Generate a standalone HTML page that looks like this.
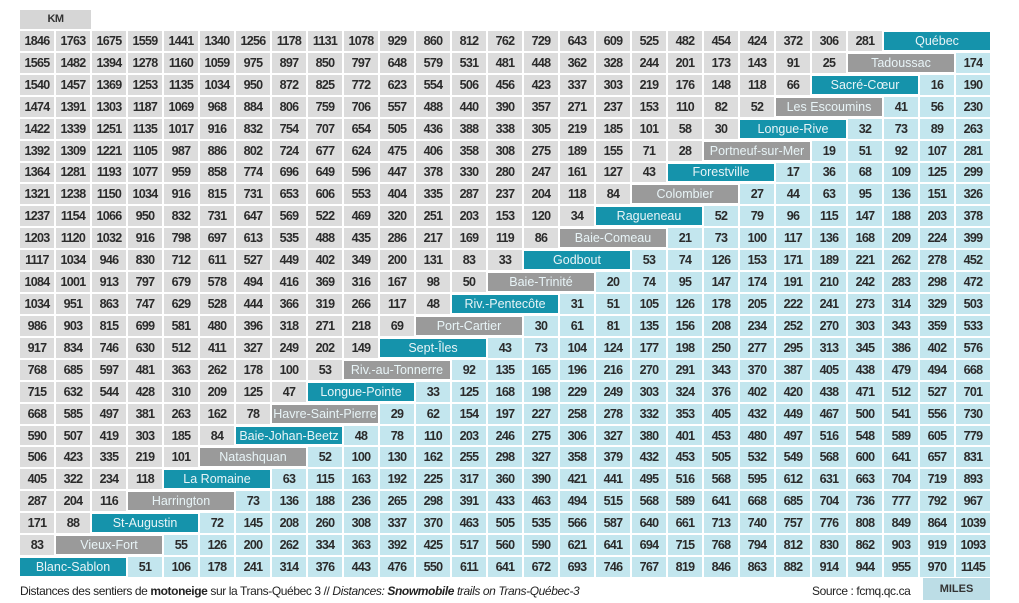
<!DOCTYPE html>
<html><head><meta charset="utf-8">
<style>
html,body{margin:0;padding:0;background:#fff;width:1019px;height:603px;overflow:hidden}
body{position:relative;font-family:"Liberation Sans",sans-serif}
#km{position:absolute;left:20px;top:10px;width:71px;height:19px;background:#d6d6d6;color:#333;font-weight:bold;font-size:11px;text-align:center;line-height:19px;letter-spacing:-0.5px}
#grid{position:absolute;left:20px;top:31px;width:970px;height:546px;display:grid;grid-template-columns:repeat(27,1fr);grid-template-rows:repeat(25,1fr);gap:2px}
#grid i{font-style:normal;display:flex;align-items:center;justify-content:center;font-size:12.5px;font-weight:bold;color:#2b2b2b;letter-spacing:-0.7px}
.g{background:#dcdcdc}.b{background:#c3e6ee}
#grid i.t,#grid i.d{grid-column:span 3;color:#e8f4f7;font-weight:normal;font-size:12.5px;letter-spacing:0;margin:1px 0}
.t{background:#1593ab}.d{background:#9a9a9a}
#foot{position:absolute;left:20px;top:584px;font-size:12px;color:#222;letter-spacing:-0.4px;font-weight:500}
#src{position:absolute;left:812px;top:584px;font-size:12px;color:#222;letter-spacing:-0.4px}
#mi{position:absolute;left:923px;top:578px;width:67px;height:22px;background:#bcdde6;color:#333;font-weight:bold;font-size:11px;text-align:center;line-height:22px}
</style></head><body>
<div id="km">KM</div>
<div id="grid">
<i class="g">1846</i><i class="g">1763</i><i class="g">1675</i><i class="g">1559</i><i class="g">1441</i><i class="g">1340</i><i class="g">1256</i><i class="g">1178</i><i class="g">1131</i><i class="g">1078</i><i class="g">929</i><i class="g">860</i><i class="g">812</i><i class="g">762</i><i class="g">729</i><i class="g">643</i><i class="g">609</i><i class="g">525</i><i class="g">482</i><i class="g">454</i><i class="g">424</i><i class="g">372</i><i class="g">306</i><i class="g">281</i><i class="t">Québec</i>
<i class="g">1565</i><i class="g">1482</i><i class="g">1394</i><i class="g">1278</i><i class="g">1160</i><i class="g">1059</i><i class="g">975</i><i class="g">897</i><i class="g">850</i><i class="g">797</i><i class="g">648</i><i class="g">579</i><i class="g">531</i><i class="g">481</i><i class="g">448</i><i class="g">362</i><i class="g">328</i><i class="g">244</i><i class="g">201</i><i class="g">173</i><i class="g">143</i><i class="g">91</i><i class="g">25</i><i class="d">Tadoussac</i><i class="b">174</i>
<i class="g">1540</i><i class="g">1457</i><i class="g">1369</i><i class="g">1253</i><i class="g">1135</i><i class="g">1034</i><i class="g">950</i><i class="g">872</i><i class="g">825</i><i class="g">772</i><i class="g">623</i><i class="g">554</i><i class="g">506</i><i class="g">456</i><i class="g">423</i><i class="g">337</i><i class="g">303</i><i class="g">219</i><i class="g">176</i><i class="g">148</i><i class="g">118</i><i class="g">66</i><i class="t">Sacré-Cœur</i><i class="b">16</i><i class="b">190</i>
<i class="g">1474</i><i class="g">1391</i><i class="g">1303</i><i class="g">1187</i><i class="g">1069</i><i class="g">968</i><i class="g">884</i><i class="g">806</i><i class="g">759</i><i class="g">706</i><i class="g">557</i><i class="g">488</i><i class="g">440</i><i class="g">390</i><i class="g">357</i><i class="g">271</i><i class="g">237</i><i class="g">153</i><i class="g">110</i><i class="g">82</i><i class="g">52</i><i class="d">Les Escoumins</i><i class="b">41</i><i class="b">56</i><i class="b">230</i>
<i class="g">1422</i><i class="g">1339</i><i class="g">1251</i><i class="g">1135</i><i class="g">1017</i><i class="g">916</i><i class="g">832</i><i class="g">754</i><i class="g">707</i><i class="g">654</i><i class="g">505</i><i class="g">436</i><i class="g">388</i><i class="g">338</i><i class="g">305</i><i class="g">219</i><i class="g">185</i><i class="g">101</i><i class="g">58</i><i class="g">30</i><i class="t">Longue-Rive</i><i class="b">32</i><i class="b">73</i><i class="b">89</i><i class="b">263</i>
<i class="g">1392</i><i class="g">1309</i><i class="g">1221</i><i class="g">1105</i><i class="g">987</i><i class="g">886</i><i class="g">802</i><i class="g">724</i><i class="g">677</i><i class="g">624</i><i class="g">475</i><i class="g">406</i><i class="g">358</i><i class="g">308</i><i class="g">275</i><i class="g">189</i><i class="g">155</i><i class="g">71</i><i class="g">28</i><i class="d">Portneuf-sur-Mer</i><i class="b">19</i><i class="b">51</i><i class="b">92</i><i class="b">107</i><i class="b">281</i>
<i class="g">1364</i><i class="g">1281</i><i class="g">1193</i><i class="g">1077</i><i class="g">959</i><i class="g">858</i><i class="g">774</i><i class="g">696</i><i class="g">649</i><i class="g">596</i><i class="g">447</i><i class="g">378</i><i class="g">330</i><i class="g">280</i><i class="g">247</i><i class="g">161</i><i class="g">127</i><i class="g">43</i><i class="t">Forestville</i><i class="b">17</i><i class="b">36</i><i class="b">68</i><i class="b">109</i><i class="b">125</i><i class="b">299</i>
<i class="g">1321</i><i class="g">1238</i><i class="g">1150</i><i class="g">1034</i><i class="g">916</i><i class="g">815</i><i class="g">731</i><i class="g">653</i><i class="g">606</i><i class="g">553</i><i class="g">404</i><i class="g">335</i><i class="g">287</i><i class="g">237</i><i class="g">204</i><i class="g">118</i><i class="g">84</i><i class="d">Colombier</i><i class="b">27</i><i class="b">44</i><i class="b">63</i><i class="b">95</i><i class="b">136</i><i class="b">151</i><i class="b">326</i>
<i class="g">1237</i><i class="g">1154</i><i class="g">1066</i><i class="g">950</i><i class="g">832</i><i class="g">731</i><i class="g">647</i><i class="g">569</i><i class="g">522</i><i class="g">469</i><i class="g">320</i><i class="g">251</i><i class="g">203</i><i class="g">153</i><i class="g">120</i><i class="g">34</i><i class="t">Ragueneau</i><i class="b">52</i><i class="b">79</i><i class="b">96</i><i class="b">115</i><i class="b">147</i><i class="b">188</i><i class="b">203</i><i class="b">378</i>
<i class="g">1203</i><i class="g">1120</i><i class="g">1032</i><i class="g">916</i><i class="g">798</i><i class="g">697</i><i class="g">613</i><i class="g">535</i><i class="g">488</i><i class="g">435</i><i class="g">286</i><i class="g">217</i><i class="g">169</i><i class="g">119</i><i class="g">86</i><i class="d">Baie-Comeau</i><i class="b">21</i><i class="b">73</i><i class="b">100</i><i class="b">117</i><i class="b">136</i><i class="b">168</i><i class="b">209</i><i class="b">224</i><i class="b">399</i>
<i class="g">1117</i><i class="g">1034</i><i class="g">946</i><i class="g">830</i><i class="g">712</i><i class="g">611</i><i class="g">527</i><i class="g">449</i><i class="g">402</i><i class="g">349</i><i class="g">200</i><i class="g">131</i><i class="g">83</i><i class="g">33</i><i class="t">Godbout</i><i class="b">53</i><i class="b">74</i><i class="b">126</i><i class="b">153</i><i class="b">171</i><i class="b">189</i><i class="b">221</i><i class="b">262</i><i class="b">278</i><i class="b">452</i>
<i class="g">1084</i><i class="g">1001</i><i class="g">913</i><i class="g">797</i><i class="g">679</i><i class="g">578</i><i class="g">494</i><i class="g">416</i><i class="g">369</i><i class="g">316</i><i class="g">167</i><i class="g">98</i><i class="g">50</i><i class="d">Baie-Trinité</i><i class="b">20</i><i class="b">74</i><i class="b">95</i><i class="b">147</i><i class="b">174</i><i class="b">191</i><i class="b">210</i><i class="b">242</i><i class="b">283</i><i class="b">298</i><i class="b">472</i>
<i class="g">1034</i><i class="g">951</i><i class="g">863</i><i class="g">747</i><i class="g">629</i><i class="g">528</i><i class="g">444</i><i class="g">366</i><i class="g">319</i><i class="g">266</i><i class="g">117</i><i class="g">48</i><i class="t">Riv.-Pentecôte</i><i class="b">31</i><i class="b">51</i><i class="b">105</i><i class="b">126</i><i class="b">178</i><i class="b">205</i><i class="b">222</i><i class="b">241</i><i class="b">273</i><i class="b">314</i><i class="b">329</i><i class="b">503</i>
<i class="g">986</i><i class="g">903</i><i class="g">815</i><i class="g">699</i><i class="g">581</i><i class="g">480</i><i class="g">396</i><i class="g">318</i><i class="g">271</i><i class="g">218</i><i class="g">69</i><i class="d">Port-Cartier</i><i class="b">30</i><i class="b">61</i><i class="b">81</i><i class="b">135</i><i class="b">156</i><i class="b">208</i><i class="b">234</i><i class="b">252</i><i class="b">270</i><i class="b">303</i><i class="b">343</i><i class="b">359</i><i class="b">533</i>
<i class="g">917</i><i class="g">834</i><i class="g">746</i><i class="g">630</i><i class="g">512</i><i class="g">411</i><i class="g">327</i><i class="g">249</i><i class="g">202</i><i class="g">149</i><i class="t">Sept-Îles</i><i class="b">43</i><i class="b">73</i><i class="b">104</i><i class="b">124</i><i class="b">177</i><i class="b">198</i><i class="b">250</i><i class="b">277</i><i class="b">295</i><i class="b">313</i><i class="b">345</i><i class="b">386</i><i class="b">402</i><i class="b">576</i>
<i class="g">768</i><i class="g">685</i><i class="g">597</i><i class="g">481</i><i class="g">363</i><i class="g">262</i><i class="g">178</i><i class="g">100</i><i class="g">53</i><i class="d">Riv.-au-Tonnerre</i><i class="b">92</i><i class="b">135</i><i class="b">165</i><i class="b">196</i><i class="b">216</i><i class="b">270</i><i class="b">291</i><i class="b">343</i><i class="b">370</i><i class="b">387</i><i class="b">405</i><i class="b">438</i><i class="b">479</i><i class="b">494</i><i class="b">668</i>
<i class="g">715</i><i class="g">632</i><i class="g">544</i><i class="g">428</i><i class="g">310</i><i class="g">209</i><i class="g">125</i><i class="g">47</i><i class="t">Longue-Pointe</i><i class="b">33</i><i class="b">125</i><i class="b">168</i><i class="b">198</i><i class="b">229</i><i class="b">249</i><i class="b">303</i><i class="b">324</i><i class="b">376</i><i class="b">402</i><i class="b">420</i><i class="b">438</i><i class="b">471</i><i class="b">512</i><i class="b">527</i><i class="b">701</i>
<i class="g">668</i><i class="g">585</i><i class="g">497</i><i class="g">381</i><i class="g">263</i><i class="g">162</i><i class="g">78</i><i class="d">Havre-Saint-Pierre</i><i class="b">29</i><i class="b">62</i><i class="b">154</i><i class="b">197</i><i class="b">227</i><i class="b">258</i><i class="b">278</i><i class="b">332</i><i class="b">353</i><i class="b">405</i><i class="b">432</i><i class="b">449</i><i class="b">467</i><i class="b">500</i><i class="b">541</i><i class="b">556</i><i class="b">730</i>
<i class="g">590</i><i class="g">507</i><i class="g">419</i><i class="g">303</i><i class="g">185</i><i class="g">84</i><i class="t">Baie-Johan-Beetz</i><i class="b">48</i><i class="b">78</i><i class="b">110</i><i class="b">203</i><i class="b">246</i><i class="b">275</i><i class="b">306</i><i class="b">327</i><i class="b">380</i><i class="b">401</i><i class="b">453</i><i class="b">480</i><i class="b">497</i><i class="b">516</i><i class="b">548</i><i class="b">589</i><i class="b">605</i><i class="b">779</i>
<i class="g">506</i><i class="g">423</i><i class="g">335</i><i class="g">219</i><i class="g">101</i><i class="d">Natashquan</i><i class="b">52</i><i class="b">100</i><i class="b">130</i><i class="b">162</i><i class="b">255</i><i class="b">298</i><i class="b">327</i><i class="b">358</i><i class="b">379</i><i class="b">432</i><i class="b">453</i><i class="b">505</i><i class="b">532</i><i class="b">549</i><i class="b">568</i><i class="b">600</i><i class="b">641</i><i class="b">657</i><i class="b">831</i>
<i class="g">405</i><i class="g">322</i><i class="g">234</i><i class="g">118</i><i class="t">La Romaine</i><i class="b">63</i><i class="b">115</i><i class="b">163</i><i class="b">192</i><i class="b">225</i><i class="b">317</i><i class="b">360</i><i class="b">390</i><i class="b">421</i><i class="b">441</i><i class="b">495</i><i class="b">516</i><i class="b">568</i><i class="b">595</i><i class="b">612</i><i class="b">631</i><i class="b">663</i><i class="b">704</i><i class="b">719</i><i class="b">893</i>
<i class="g">287</i><i class="g">204</i><i class="g">116</i><i class="d">Harrington</i><i class="b">73</i><i class="b">136</i><i class="b">188</i><i class="b">236</i><i class="b">265</i><i class="b">298</i><i class="b">391</i><i class="b">433</i><i class="b">463</i><i class="b">494</i><i class="b">515</i><i class="b">568</i><i class="b">589</i><i class="b">641</i><i class="b">668</i><i class="b">685</i><i class="b">704</i><i class="b">736</i><i class="b">777</i><i class="b">792</i><i class="b">967</i>
<i class="g">171</i><i class="g">88</i><i class="t">St-Augustin</i><i class="b">72</i><i class="b">145</i><i class="b">208</i><i class="b">260</i><i class="b">308</i><i class="b">337</i><i class="b">370</i><i class="b">463</i><i class="b">505</i><i class="b">535</i><i class="b">566</i><i class="b">587</i><i class="b">640</i><i class="b">661</i><i class="b">713</i><i class="b">740</i><i class="b">757</i><i class="b">776</i><i class="b">808</i><i class="b">849</i><i class="b">864</i><i class="b">1039</i>
<i class="g">83</i><i class="d">Vieux-Fort</i><i class="b">55</i><i class="b">126</i><i class="b">200</i><i class="b">262</i><i class="b">334</i><i class="b">363</i><i class="b">392</i><i class="b">425</i><i class="b">517</i><i class="b">560</i><i class="b">590</i><i class="b">621</i><i class="b">641</i><i class="b">694</i><i class="b">715</i><i class="b">768</i><i class="b">794</i><i class="b">812</i><i class="b">830</i><i class="b">862</i><i class="b">903</i><i class="b">919</i><i class="b">1093</i>
<i class="t">Blanc-Sablon</i><i class="b">51</i><i class="b">106</i><i class="b">178</i><i class="b">241</i><i class="b">314</i><i class="b">376</i><i class="b">443</i><i class="b">476</i><i class="b">550</i><i class="b">611</i><i class="b">641</i><i class="b">672</i><i class="b">693</i><i class="b">746</i><i class="b">767</i><i class="b">819</i><i class="b">846</i><i class="b">863</i><i class="b">882</i><i class="b">914</i><i class="b">944</i><i class="b">955</i><i class="b">970</i><i class="b">1145</i>
</div>
<div id="foot">Distances des sentiers de <b>motoneige</b> sur la Trans-Québec 3 // <i>Distances: <b>Snowmobile</b> trails on Trans-Québec-3</i></div>
<div id="src">Source : fcmq.qc.ca</div>
<div id="mi">MILES</div>
</body></html>
